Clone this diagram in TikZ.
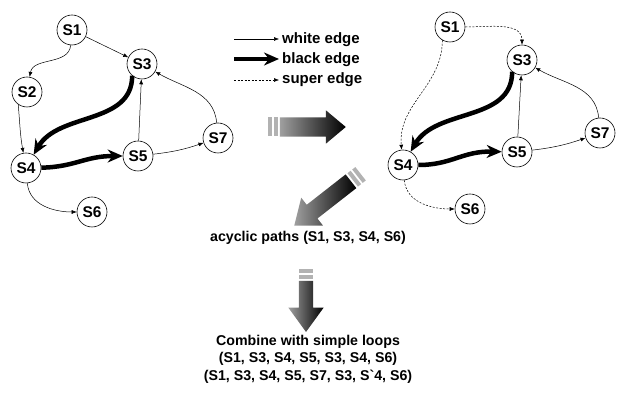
\documentclass[tikz,border=0pt]{standalone}
\usepackage{fontspec}
\setmainfont{Liberation Sans}
\usetikzlibrary{arrows.meta, shapes.arrows, calc, positioning}

\begin{document}
\begin{tikzpicture}[x=1pt, y=1pt,
  state/.style={circle, draw, line width=0.6pt, minimum size=30pt, inner sep=0pt,
    fill=white, font=\fontsize{15.5}{17}\selectfont\bfseries},
  txt/.style={inner sep=0pt, font=\fontsize{14.2}{17.5}\selectfont\bfseries},
  wedge/.style={-{Latex[length=5pt,width=4pt]}, line width=0.5pt},
  sedge/.style={wedge, dash pattern=on 2pt off 1.5pt},
  bedge/.style={-{Stealth[length=15pt,width=13pt]}, line width=4.5pt},
  bigarr/.style={single arrow, draw=none, inner sep=0pt, text depth=0pt,
    minimum width=0pt, left color=gray!75, right color=black},
  stripe/.style={rectangle, draw=none, fill=gray!60, inner sep=0pt, minimum width=4pt}
]
\useasboundingbox (0,0) rectangle (619,396);

% left graph
\node[state] (l1) at (72,366) {S1};
\node[state] (l2) at (27,304) {S2};
\node[state] (l3) at (142,332) {S3};
\node[state] (l4) at (26,228) {S4};
\node[state] (l5) at (138,240) {S5};
\node[state] (l6) at (92,184) {S6};
\node[state] (l7) at (218,258) {S7};

\draw[wedge] (l1) -- (l3);
\draw[wedge] (l1) to[out=-95, in=80] (l2);
\draw[wedge] (l2.235) to[out=-85, in=100] (l4);
\draw[bedge] (l3.230) to[out=-90, in=60] (l4);
\draw[bedge] (l4) .. controls (75,229) and (85,240) .. (l5);
\draw[wedge] (l5) -- (l3);
\draw[wedge] (l5) to[bend right=6] (l7);
\draw[wedge] (l7) to[out=95, in=-30] (l3);
\draw[wedge] (l4) to[out=-85, in=180] (l6);

% legend
\coordinate (w0) at (234,357);
\coordinate (w1) at (279,357);
\coordinate (b0) at (234,337);
\coordinate (b1) at (279,337);
\coordinate (s0) at (234,316);
\coordinate (s1) at (279,316);
\node[txt, font=\fontsize{15}{17}\selectfont\bfseries, anchor=base west] (wtxt) at (282,352) {white edge};
\node[txt, font=\fontsize{15}{17}\selectfont\bfseries, anchor=base west] (btxt) at (282,332) {black edge};
\node[txt, font=\fontsize{15}{17}\selectfont\bfseries, anchor=base west] (stxt) at (282,312) {super edge};
\draw[wedge] (w0) -- (w1);
\draw[bedge] (b0) -- (b1);
\draw[sedge] (s0) -- (s1);

% right graph
\node[state] (r1) at (450,369) {S1};
\node[state] (r3) at (522,336) {S3};
\node[state] (r4) at (403,231) {S4};
\node[state] (r5) at (517,244) {S5};
\node[state] (r6) at (470,187) {S6};
\node[state] (r7) at (600,263) {S7};

\draw[sedge] (r1) to[out=0, in=90] (r3);
\draw[sedge] (r1.240) to[out=-90, in=95] (r4);
\draw[bedge] (r3.230) to[out=-90, in=60] (r4);
\draw[bedge] (r4) .. controls (452,231) and (462,245) .. (r5);
\draw[wedge] (r5) -- (r3);
\draw[wedge] (r5) to[bend right=6] (r7);
\draw[wedge] (r7) to[out=95, in=-30] (r3);
\draw[sedge] (r4) to[out=-85, in=180] (r6);

% big arrows
\node[bigarr, text height=19pt, single arrow head extend=7pt, minimum height=66pt,
  single arrow tip angle=80] (rarr) at (307,269) {};
\node[bigarr, text height=17pt, single arrow head extend=9pt, minimum height=72pt,
  single arrow tip angle=76, rotate=218] (darr) at (327,196) {};
\node[bigarr, text height=14pt, single arrow head extend=10.5pt, minimum height=51pt,
  single arrow tip angle=72, rotate=-90] (varr) at (306,94.5) {};

\foreach \a/\h in {rarr/19pt, darr/17pt, varr/14pt}{
  \path let \p1=($(\a.tip)-(\a.tail)$), \n1={atan2(\y1,\x1)} in
    node[stripe, minimum height=\h, rotate=\n1] at ($(\a.tail)!-4pt!(\a.tip)$) {}
    node[stripe, minimum height=\h, rotate=\n1] at ($(\a.tail)!-10pt!(\a.tip)$) {};
}

% texts
\node[txt] (acyc) at (308,158) {acyclic paths (S1, S3, S4, S6)};
\node[txt, align=center] (comb) at (308,37)
  {Combine with simple loops\\(S1, S3, S4, S5, S3, S4, S6)\\(S1, S3, S4, S5, S7, S3, S\textasciigrave4, S6)};
\end{tikzpicture}
\end{document}
